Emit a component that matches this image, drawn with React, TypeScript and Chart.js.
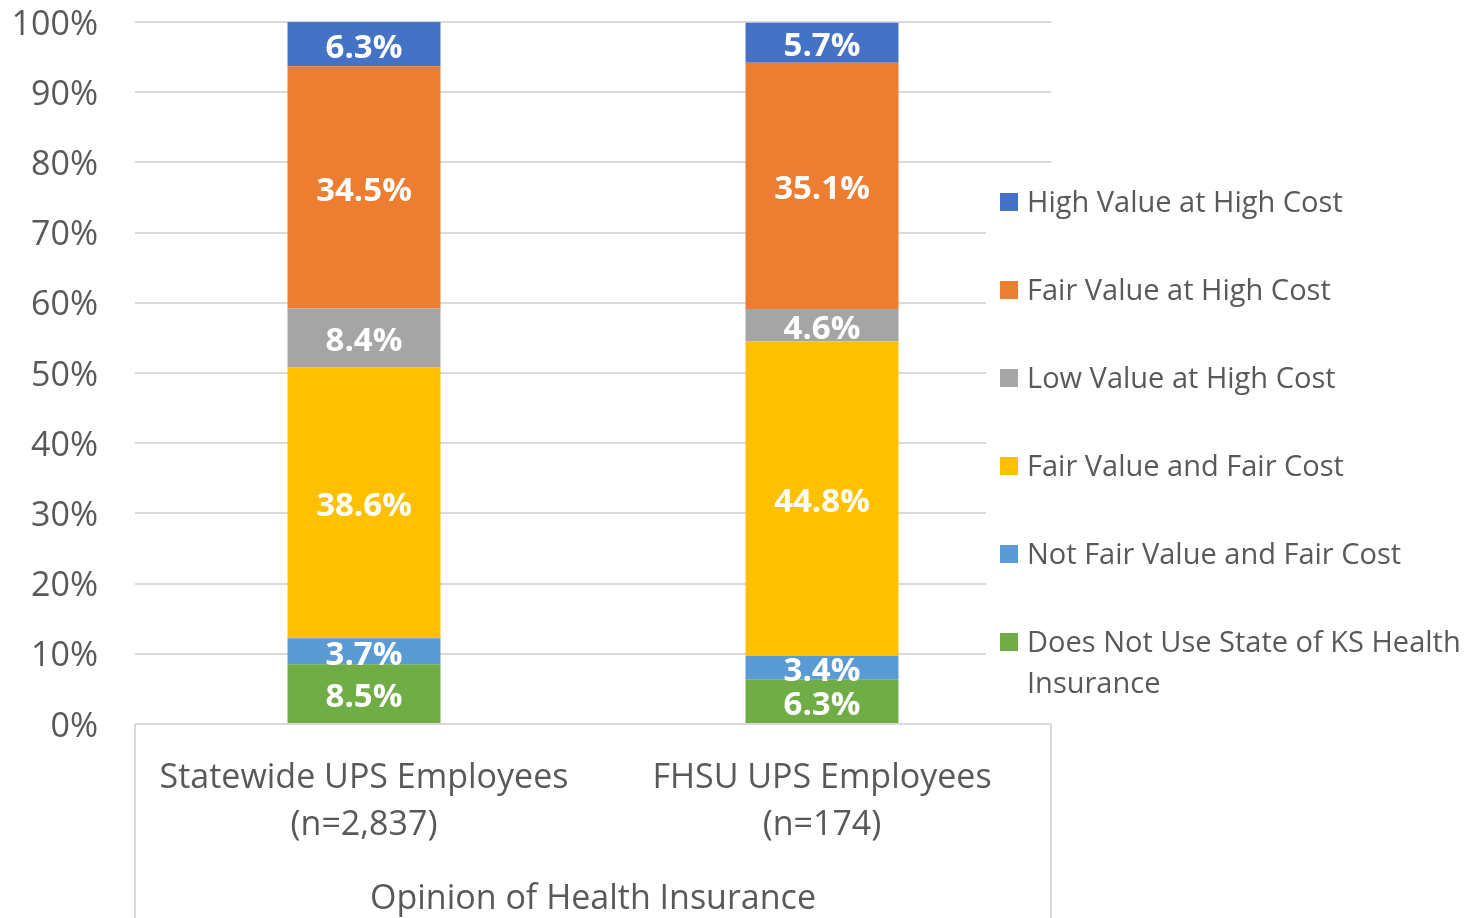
import React, { useEffect, useRef } from 'react';
import { Chart, registerables } from 'chart.js';

Chart.register(...registerables);

// ---- Data ----
const categories: string[][] = [
  ['Statewide UPS Employees', '(n=2,837)'],
  ['FHSU UPS Employees', '(n=174)'],
];
const axisTitle = 'Opinion of Health Insurance';

// series, listed bottom of the stack to top
const doesNotUse = [8.5, 6.3];
const notFairValueFairCost = [3.7, 3.4];
const fairValueFairCost = [38.6, 44.8];
const lowValueHighCost = [8.4, 4.6];
const fairValueHighCost = [34.5, 35.1];
const highValueHighCost = [6.3, 5.7];

const seriesLabels = [
  'Does Not Use State of KS Health Insurance',
  'Not Fair Value and Fair Cost',
  'Fair Value and Fair Cost',
  'Low Value at High Cost',
  'Fair Value at High Cost',
  'High Value at High Cost',
];
const seriesColors = ['#70AD47', '#5B9BD5', '#FFC000', '#A5A5A5', '#ED7D31', '#4472C4'];
const seriesValues = [
  doesNotUse,
  notFairValueFairCost,
  fairValueFairCost,
  lowValueHighCost,
  fairValueHighCost,
  highValueHighCost,
];

const yMin = 0;
const yMax = 100;
const yStep = 10;

const FONT = '"Open Sans", "Noto Sans", sans-serif';
const TEXT = '#595959';
const GRID = '#D9D9D9';

const dataLabelPlugin = {
  id: 'dataLabels',
  afterDatasetsDraw(chart: any) {
    const ctx = chart.ctx;
    ctx.save();
    ctx.font = `bold 33px ${FONT}`;
    ctx.fillStyle = '#FFFFFF';
    ctx.textAlign = 'center';
    ctx.textBaseline = 'middle';
    chart.data.datasets.forEach((ds: any, i: number) => {
      const meta = chart.getDatasetMeta(i);
      meta.data.forEach((el: any, j: number) => {
        const { x, y, base } = el.getProps(['x', 'y', 'base'], true);
        const v = ds.data[j];
        ctx.fillText(v.toFixed(1) + '%', x, (y + base) / 2 + 4);
      });
    });
    ctx.restore();
  },
};

const framePlugin = {
  id: 'frame',
  afterDraw(chart: any) {
    const ctx = chart.ctx;
    const { left, right, bottom } = chart.chartArea;
    ctx.save();
    ctx.strokeStyle = GRID;
    ctx.lineWidth = 2;
    ctx.beginPath();
    ctx.moveTo(left, bottom);
    ctx.lineTo(left, chart.height);
    ctx.moveTo(right, bottom);
    ctx.lineTo(right, chart.height);
    ctx.stroke();
    ctx.restore();
  },
};

function wrap(ctx: CanvasRenderingContext2D, text: string, maxW: number): string[] {
  const words = text.split(' ');
  const lines: string[] = [];
  let cur = '';
  for (const w of words) {
    const t = cur ? cur + ' ' + w : w;
    if (ctx.measureText(t).width > maxW && cur) {
      lines.push(cur);
      cur = w;
    } else cur = t;
  }
  if (cur) lines.push(cur);
  return lines;
}

const legendPlugin = {
  id: 'customLegend',
  afterDraw(chart: any) {
    const ctx = chart.ctx;
    ctx.save();
    ctx.fillStyle = '#FFFFFF';
    ctx.fillRect(986, 172, chart.width - 986, 540);
    ctx.font = `29px ${FONT}`;
    ctx.textBaseline = 'middle';
    ctx.textAlign = 'left';
    const ds = chart.data.datasets.slice().reverse();
    const x0 = 1000;
    const y0 = 204;
    const gap = 88;
    ds.forEach((d: any, i: number) => {
      const cy = y0 + i * gap;
      ctx.fillStyle = d.backgroundColor;
      ctx.fillRect(x0, cy - 11, 18, 18);
      ctx.fillStyle = TEXT;
      const lines = wrap(ctx, d.label, chart.width - 1028 - 2);
      lines.forEach((ln, k) => ctx.fillText(ln, 1027, cy + k * 41));
    });
    ctx.restore();
  },
};

export default function App() {
  const ref = useRef<HTMLCanvasElement>(null);
  useEffect(() => {
    if (!ref.current) return;
    const chart = new Chart(ref.current, {
      type: 'bar',
      data: {
        labels: categories,
        datasets: seriesValues.map((vals, i) => ({
          label: seriesLabels[i],
          data: vals,
          backgroundColor: seriesColors[i],
          borderWidth: 0,
          barPercentage: 1,
          categoryPercentage: 0.334,
        })),
      },
      options: {
        animation: false,
        responsive: true,
        maintainAspectRatio: false,
        layout: { padding: { top: 22, right: 417, left: 0, bottom: 0 } },
        plugins: {
          legend: { display: false },
          tooltip: { enabled: false },
          title: { display: false },
        },
        scales: {
          x: {
            stacked: true,
            grid: { display: false },
            border: { display: false },
            ticks: {
              color: TEXT,
              font: { family: FONT, size: 34, lineHeight: 1.38 },
              padding: 23,
              maxRotation: 0,
              autoSkip: false,
            },
            title: {
              display: true,
              text: axisTitle,
              color: TEXT,
              font: { family: FONT, size: 34, lineHeight: 1.1 },
              padding: { top: 0, bottom: 0 },
            },
            afterFit(scale: any) {
              scale.height = 194;
            },
          },
          y: {
            stacked: true,
            min: yMin,
            max: yMax,
            border: { display: false },
            grid: { color: GRID, lineWidth: 2, drawTicks: false },
            ticks: {
              stepSize: yStep,
              color: TEXT,
              padding: 37,
              labelOffset: 3,
              font: { family: FONT, size: 34 },
              callback: (v: any) => v + '%',
            },
            afterFit(scale: any) {
              scale.width = 135;
              scale.paddingTop = 0;
              scale.paddingBottom = 0;
            },
          },
        },
      },
      plugins: [dataLabelPlugin, framePlugin, legendPlugin],
    });
    return () => chart.destroy();
  }, []);
  return (
    <div style={{ position: 'absolute', left: 0, top: 0, width: 1468, height: 918, background: '#fff' }}>
      <canvas ref={ref} />
    </div>
  );
}
